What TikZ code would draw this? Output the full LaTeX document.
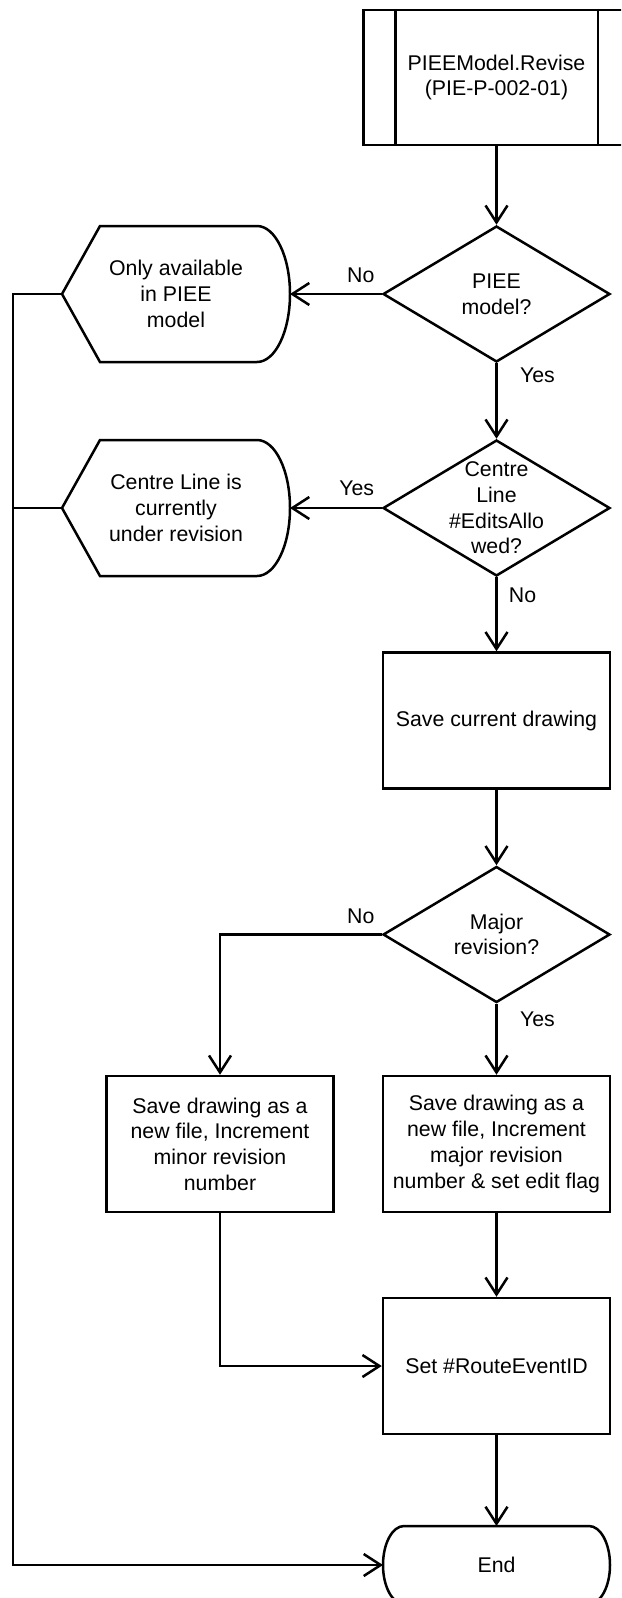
\documentclass[tikz,border=0pt]{standalone}
\usepackage{fontspec}
\setmainfont{Liberation Sans}
\usetikzlibrary{shapes.geometric,arrows.meta,positioning}

\tikzset{
  flow/.style={-{Straight Barb[length=17pt,width=22pt]}},
  process/.style={draw, rectangle, minimum width=227pt, minimum height=136pt,
    inner sep=2pt, align=center},
  decision/.style={draw, diamond, minimum width=227pt, minimum height=136pt,
    inner sep=0pt},
  qtext/.style={align=center},
  display/.style={rectangle, minimum width=228pt, minimum height=136pt,
    outer sep=0pt, align=center},
  terminal/.style={rectangle, minimum width=227pt, minimum height=78pt,
    outer sep=0pt},
  answer/.style={inner sep=0pt, text height=15pt, text depth=0pt},
}

\begin{document}
\begin{tikzpicture}[x=1pt, y=-1pt, line width=2.5pt,
    font=\fontsize{21.3}{25.7}\selectfont]

  \useasboundingbox (0,0) rectangle (621,1598);
  \clip (0,0) rectangle (621,1598);

  % --- sottoprocesso iniziale ---
  \node[process, minimum width=266pt, minimum height=135pt] (sub) at (496.5,77.5)
    {PIEEModel.Revise\\(PIE-P-002-01)};
  \draw ([xshift=33pt]sub.north west) -- ([xshift=33pt]sub.south west);
  \draw ([xshift=-33pt]sub.north east) -- ([xshift=-33pt]sub.south east);

  % --- colonna principale ---
  \node[decision, label={[qtext]center:PIEE\\model?}] (piee) at (496.5,294) {};
  \node[decision, label={[qtext]center:Centre\\Line\\\#EditsAllo\\wed?}] (edits)
    at (496.5,508) {};
  \node[process] (save) at (496.5,720.5) {Save current drawing};
  \node[decision, label={[qtext]center:Major\\revision?}] (major) at (496.5,934.5) {};
  \node[process] (incmaj) at (496.5,1144)
    {Save drawing as a\\new file, Increment\\major revision\\number \& set edit flag};
  \node[process] (incmin) at (220,1144)
    {Save drawing as a\\new file, Increment\\minor revision\\number};
  \node[process] (setid) at (496.5,1366) {Set \#RouteEventID};
  \node[terminal] (stop) at (496.5,1565) {End};

  % --- messaggi a sinistra ---
  \node[display] (notpiee) at (176,294) {Only available\\in PIEE\\model};
  \node[display] (underrev) at (176,508) {Centre Line is\\currently\\under revision};
  \foreach \d in {notpiee,underrev}
    \draw (\d.west) -- ([xshift=38pt]\d.north west) -- ([xshift=-33pt]\d.north east)
      arc[start angle=90, end angle=-90, x radius=33pt, y radius=68pt]
      -- ([xshift=38pt]\d.south west) -- cycle;

  % --- terminatore ---
  \draw ([xshift=21pt]stop.north west) -- ([xshift=-21pt]stop.north east)
    arc[start angle=90, end angle=-90, x radius=21pt, y radius=39pt]
    -- ([xshift=21pt]stop.south west)
    arc[start angle=270, end angle=90, x radius=21pt, y radius=39pt] -- cycle;

  % --- risposte ---
  \node[answer] (no1) at ([shift={(-21pt,19pt)}]piee.west) {No};
  \node[answer] (yes1) at ([shift={(41pt,-12pt)}]piee.south) {Yes};
  \node[answer] (yes2) at ([shift={(-25pt,20pt)}]edits.west) {Yes};
  \node[answer] (no2) at ([shift={(26pt,-18pt)}]edits.south) {No};
  \node[answer] (no3) at ([shift={(-21pt,19pt)}]major.west) {No};
  \node[answer] (yes3) at ([shift={(41pt,-15pt)}]major.south) {Yes};

  % --- frecce ---
  \coordinate (rail) at (13,1565);
  \draw[flow] (sub.south) -- (piee.north);
  \draw[flow] (piee.west) -- (notpiee.east);
  \draw[flow] (piee.south) -- (edits.north);
  \draw[flow] (edits.west) -- (underrev.east);
  \draw[flow] (edits.south) -- (save.north);
  \draw[flow] (save.south) -- (major.north);
  \draw[flow] (major.south) -- (incmaj.north);
  \draw[flow] (major.west) -| (incmin.north);
  \draw[flow] (incmaj.south) -- (setid.north);
  \draw[flow] (incmin.south) |- (setid.west);
  \draw[flow] (setid.south) -- (stop.north);
  \draw[flow] (notpiee.west) -- (notpiee.west -| rail) -- (rail) -- (stop.west);
  \draw (underrev.west) -- (underrev.west -| rail);

\end{tikzpicture}
\end{document}
